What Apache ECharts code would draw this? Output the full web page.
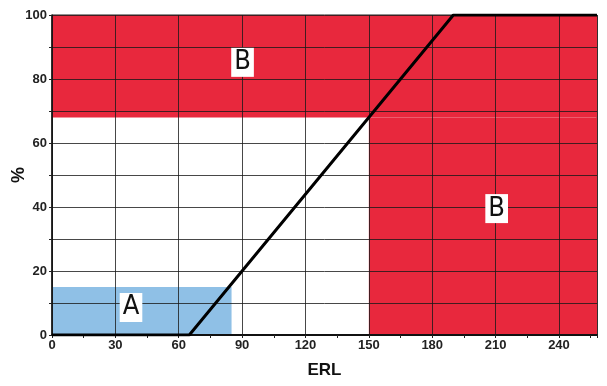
<!DOCTYPE html>
<html><head><meta charset="utf-8">
<script src="https://cdn.jsdelivr.net/npm/echarts@6/dist/echarts.min.js"></script>
<style>html,body{margin:0;padding:0;background:#fff}#c{width:607px;height:386px}</style>
</head><body><div id="c"></div>
<script>
// ERL curve
const lineX = [0, 65, 190, 258];
const lineY = [0, 0, 100, 100];
// zones
const zoneNames = ['B', 'B', 'A'];
const zoneX0 = [0, 150, 0];
const zoneX1 = [258, 258, 85];
const zoneY0 = [68, 0, 0];
const zoneY1 = [100, 68, 15];
const zoneColors = ['#e8283d', '#e8283d', '#8fc0e6'];
// zone labels
const labelX = [90.2, 210.5, 37.4];
const labelY = [85.2, 39.5, 8.6];

const chart = echarts.init(document.getElementById('c'));
const font = '"Liberation Sans", Arial, sans-serif';
chart.setOption({
  animation: false,
  grid: { left: 52, right: 10, top: 15, bottom: 51, show: true, borderColor: '#222', borderWidth: 1, containLabel: false, outerBoundsMode: 'none' },
  xAxis: {
    type: 'value', min: 0, max: 258, interval: 30, z: 3,
    name: 'ERL', nameLocation: 'middle', nameGap: 27, nameMoveOverlap: false,
    nameTextStyle: { fontFamily: font, fontWeight: 'bold', fontSize: 17, color: '#111' },
    axisLine: { show: true, lineStyle: { color: '#111', width: 2 } },
    axisTick: { show: true, length: 3, lineStyle: { color: '#222' } },
    minorTick: { show: true, splitNumber: 2, length: 3, lineStyle: { color: '#222' } },
    axisLabel: { fontFamily: font, fontWeight: 'bold', fontSize: 13, color: '#222', margin: 4, showMaxLabel: false },
    splitLine: { show: true, lineStyle: { color: 'rgba(25,25,25,0.8)', width: 1 } }
  },
  yAxis: {
    type: 'value', min: 0, max: 100, interval: 10, z: 3,
    name: '%', nameLocation: 'middle', nameGap: 24, nameRotate: 90, nameMoveOverlap: false,
    nameTextStyle: { fontFamily: font, fontWeight: 'bold', fontSize: 18, color: '#111' },
    axisLine: { show: true, lineStyle: { color: '#111', width: 1.5 } },
    axisTick: { show: true, length: 3, lineStyle: { color: '#222' } },
    axisLabel: { fontFamily: font, fontWeight: 'bold', fontSize: 13, color: '#222', margin: 5,
      formatter: v => (v % 20 === 0 ? String(v) : '') },
    splitLine: { show: true, lineStyle: { color: 'rgba(25,25,25,0.8)', width: 1 } }
  },
  series: [
    {
      type: 'line', z: 1, data: [], silent: true,
      markArea: {
        silent: true,
        data: zoneNames.map((n, i) => [
          { coord: [zoneX0[i], zoneY0[i]], itemStyle: { color: zoneColors[i], opacity: 1 } },
          { coord: [zoneX1[i], zoneY1[i]] }
        ])
      }
    },
    {
      type: 'line', z: 5, symbol: 'none', silent: true,
      lineStyle: { color: '#000', width: 3 },
      data: lineX.map((x, i) => [x, lineY[i]])
    },
    {
      type: 'scatter', z: 6, symbolSize: 0, silent: true,
      itemStyle: { opacity: 1 },
      data: labelX.map((x, i) => ({ value: [x, labelY[i]], name: zoneNames[i] })),
      label: {
        show: true, position: 'inside', formatter: p => p.name,
        fontFamily: '"DejaVu Sans Condensed", "Liberation Sans Narrow", sans-serif', fontSize: 27, lineHeight: 27, color: '#111',
        backgroundColor: '#fff', padding: [1, 3, 1, 3]
      }
    }
  ]
});
</script></body></html>
